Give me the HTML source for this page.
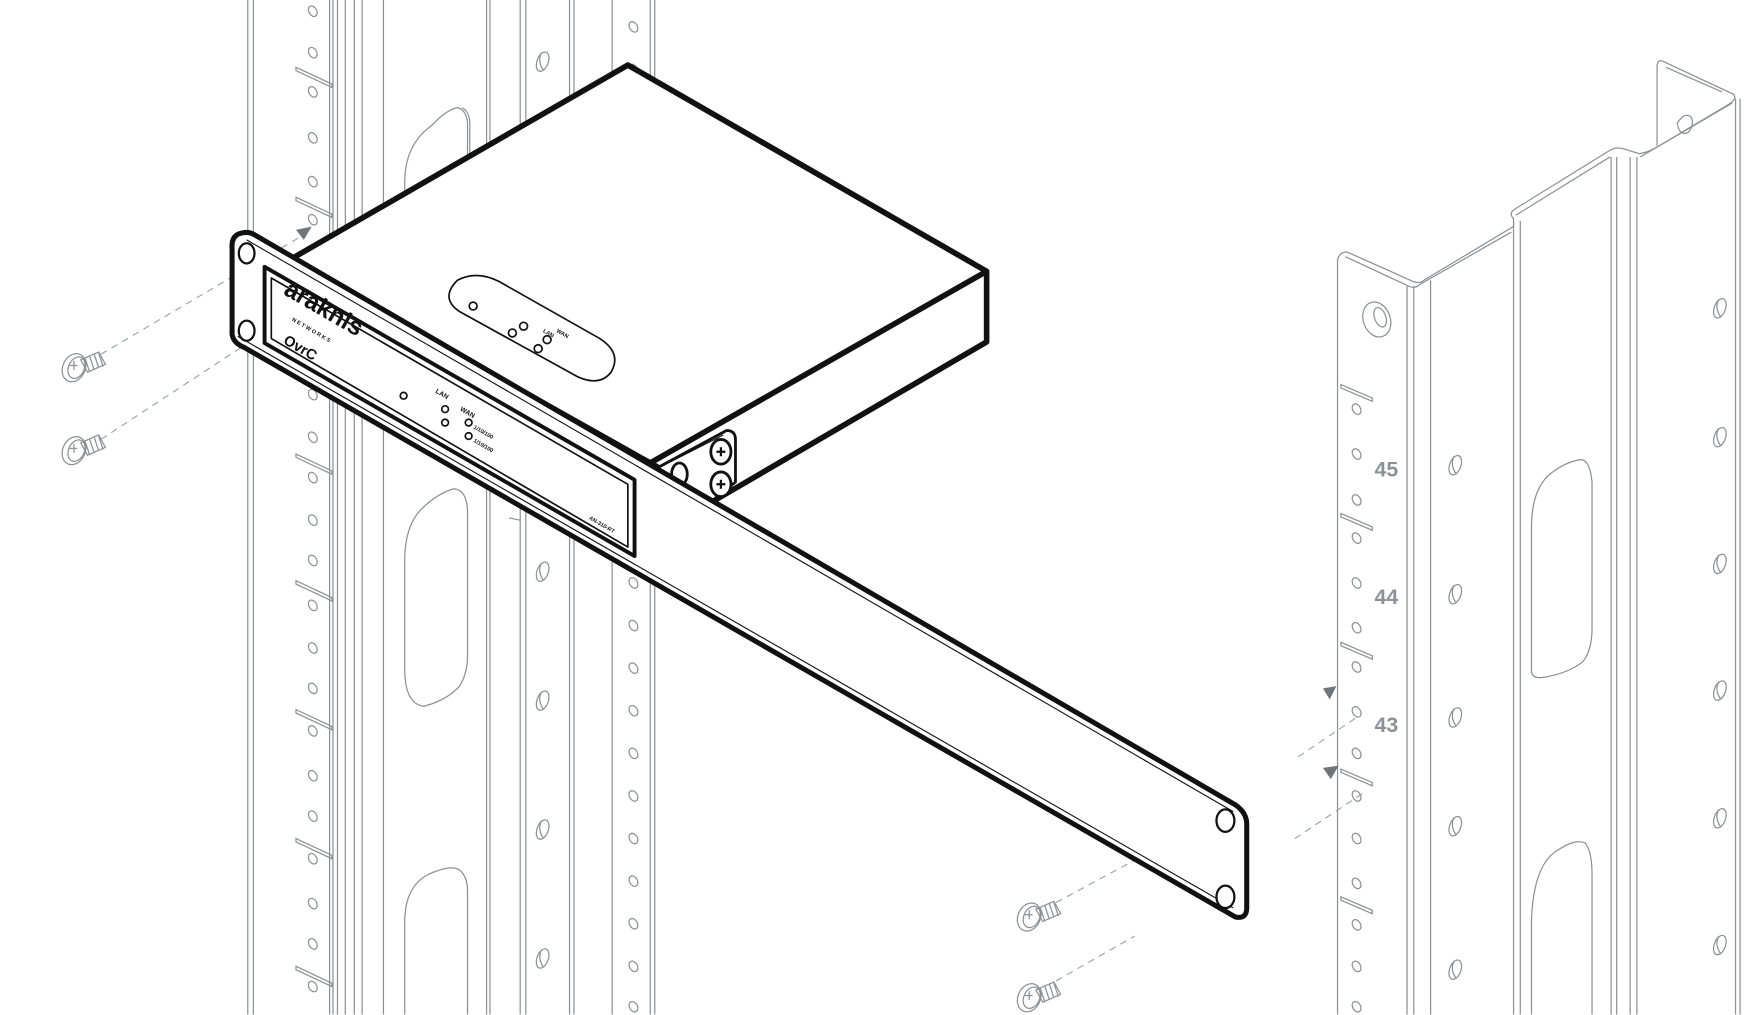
<!DOCTYPE html>
<html><head><meta charset="utf-8"><style>
html,body{margin:0;padding:0;background:#fff;width:1749px;height:1015px;overflow:hidden}
svg{display:block}
.g{stroke:#8a9197;stroke-width:1.1;fill:none}
.k{stroke:#111;fill:#fff;stroke-linejoin:round}
.n{stroke:#111;fill:none}
</style></head><body>
<svg width="1749" height="1015" viewBox="0 0 1560 905.4" preserveAspectRatio="none" xmlns="http://www.w3.org/2000/svg">
<defs>
<g id="h"><ellipse cx="0" cy="0" rx="3.5" ry="5" transform="rotate(-30)" class="g"/></g>
<g id="H"><ellipse cx="0" cy="0" rx="5" ry="9" transform="rotate(20)" class="g"/><path d="M-1,-8 q-4,8 2,16" class="g"/></g>
<g id="scr">
<path d="M6,-7 L22,-14 L28,-3 L12,4 Z" class="g"/>
<path d="M10,-8 l4,12 M14,-10 l4,12 M18,-12 l4,12 M22,-13 l4,12" class="g"/>
<ellipse cx="0" cy="0" rx="10" ry="13" transform="rotate(25)" class="g"/>
<ellipse cx="2" cy="-1" rx="7" ry="10" transform="rotate(25)" class="g"/>
<path d="M-4,-2 h7 M0,-6 v8" class="g"/>
</g>
</defs>

<!-- LEFT RACK -->
<g class="g">
<line x1="221" y1="0" x2="221" y2="905"/><line x1="226" y1="0" x2="226" y2="905"/>
<line x1="294" y1="0" x2="294" y2="905"/><line x1="297" y1="0" x2="297" y2="905"/>
<line x1="301" y1="0" x2="301" y2="905"/><line x1="308" y1="0" x2="308" y2="905"/>
<line x1="316" y1="0" x2="316" y2="905"/><line x1="323" y1="0" x2="323" y2="905"/>
<line x1="342" y1="0" x2="342" y2="905"/>
<line x1="434" y1="0" x2="434" y2="905"/><line x1="437" y1="0" x2="437" y2="905"/>
<line x1="464" y1="0" x2="464" y2="905"/><line x1="469" y1="0" x2="469" y2="905"/>
<line x1="508" y1="0" x2="508" y2="905"/><line x1="512" y1="0" x2="512" y2="905"/>
<line x1="546" y1="0" x2="546" y2="905"/>
<line x1="580" y1="0" x2="580" y2="905"/><line x1="584" y1="0" x2="584" y2="905"/>
<path d="M361,290 L361,160 Q362,128 385,112 Q398,98 408,96 Q416,98 417,110 L417,290"/>
<path d="M412,96 Q420,100 419,115 L419,290"/>
<path d="M361,600 Q362,628 378,630 Q398,625 410,612 Q417,600 417,585 L417,455 Q416,437 405,436 Q390,440 375,455 Q361,470 361,500 Z"/>
<path d="M361,905 L361,820 Q362,790 382,780 Q400,772 408,775 Q417,780 417,795 L417,905"/>
<path d="M264,60 l32,15 v3 l-32,-15 z M264,176 l32,15 v3 l-32,-15 z M264,290 l32,15 v3 l-32,-15 z M264,405 l32,15 v3 l-32,-15 z M264,518 l32,15 v3 l-32,-15 z M264,633 l32,15 v3 l-32,-15 z M264,748 l32,15 v3 l-32,-15 z M264,862 l32,15 v3 l-32,-15 z"/>
<path d="M454,462 l10,2"/>
</g>
<g>
<use href="#h" x="279" y="10"/><use href="#h" x="279" y="47"/><use href="#h" x="279" y="82"/><use href="#h" x="279" y="123"/><use href="#h" x="279" y="162"/><use href="#h" x="279" y="196"/><use href="#h" x="279" y="238"/><use href="#h" x="279" y="276"/><use href="#h" x="279" y="312"/><use href="#h" x="279" y="352"/><use href="#h" x="279" y="390"/><use href="#h" x="279" y="426"/><use href="#h" x="279" y="464"/><use href="#h" x="279" y="500"/><use href="#h" x="279" y="540"/><use href="#h" x="279" y="578"/><use href="#h" x="279" y="614"/><use href="#h" x="279" y="652"/><use href="#h" x="279" y="692"/><use href="#h" x="279" y="728"/><use href="#h" x="279" y="766"/><use href="#h" x="279" y="806"/><use href="#h" x="279" y="842"/><use href="#h" x="279" y="880"/>
<use href="#h" x="565" y="24"/><use href="#h" x="565" y="62"/><use href="#h" x="565" y="100"/><use href="#h" x="565" y="138"/><use href="#h" x="565" y="176"/><use href="#h" x="565" y="482"/><use href="#h" x="565" y="520"/><use href="#h" x="565" y="558"/><use href="#h" x="565" y="596"/><use href="#h" x="565" y="634"/><use href="#h" x="565" y="672"/><use href="#h" x="565" y="710"/><use href="#h" x="565" y="748"/><use href="#h" x="565" y="786"/><use href="#h" x="565" y="824"/><use href="#h" x="565" y="862"/><use href="#h" x="565" y="898"/>
<use href="#H" x="484" y="55"/><use href="#H" x="484" y="510"/><use href="#H" x="484" y="625"/><use href="#H" x="484" y="740"/><use href="#H" x="484" y="855"/>
</g>

<!-- RIGHT RACK -->
<g class="g">
<path d="M1193,905 L1193,232 Q1195,224 1202,225 L1258,250 Q1266,254 1270,250 L1350,202 L1350,195 Q1345,190 1352,186 L1436,134 Q1442,130 1452,134 L1462,137 Q1470,136 1480,130 L1542,93 Q1550,88 1546,84 L1484,55 Q1478,52 1478,60 L1478,130"/>
<path d="M1200,229 L1256,255 Q1262,258 1266,254 L1348,207"/>
<path d="M1352,192 L1436,140 M1463,140 L1545,92"/>
<path d="M1486,60 L1536,82"/>
<line x1="1255" y1="255" x2="1255" y2="905"/><line x1="1261" y1="255" x2="1261" y2="905"/>
<line x1="1276" y1="250" x2="1276" y2="905"/>
<line x1="1350" y1="200" x2="1350" y2="905"/><line x1="1356" y1="197" x2="1356" y2="905"/>
<line x1="1437" y1="140" x2="1437" y2="905"/><line x1="1442" y1="140" x2="1442" y2="905"/>
<line x1="1454" y1="140" x2="1454" y2="905"/><line x1="1460" y1="140" x2="1460" y2="905"/>
<line x1="1548" y1="88" x2="1548" y2="905"/><line x1="1552" y1="88" x2="1552" y2="905"/>
<path d="M1366,905 L1366,820 Q1368,770 1390,758 Q1405,748 1414,752 Q1420,760 1420,780 L1420,905"/>
<path d="M1366,600 Q1368,606 1378,604 Q1400,600 1412,590 Q1420,580 1420,560 L1420,430 Q1418,410 1410,410 Q1395,412 1380,425 Q1366,440 1366,470 Z"/>
<ellipse cx="1228" cy="285" rx="12" ry="16" transform="rotate(-20 1228 285)"/>
<ellipse cx="1231" cy="283" rx="5" ry="9" transform="rotate(-20 1231 283)"/>
<path d="M1496,110 q6,-10 12,-6 q4,6 -2,14 q-8,4 -10,-8z"/>
<path d="M1196,343 l28,12 v3 l-28,-12z M1196,458 l28,12 v3 l-28,-12z M1196,573 l28,12 v3 l-28,-12z M1196,686 l28,12 v3 l-28,-12z M1196,800 l28,12 v3 l-28,-12z"/>
</g>
<g>
<use href="#h" x="1210" y="365"/><use href="#h" x="1210" y="405"/><use href="#h" x="1210" y="446"/><use href="#h" x="1210" y="480"/><use href="#h" x="1210" y="520"/><use href="#h" x="1210" y="560"/><use href="#h" x="1210" y="595"/><use href="#h" x="1210" y="635"/><use href="#h" x="1210" y="672"/><use href="#h" x="1210" y="710"/><use href="#h" x="1210" y="748"/><use href="#h" x="1210" y="788"/><use href="#h" x="1210" y="825"/><use href="#h" x="1210" y="862"/><use href="#h" x="1210" y="898"/>
<use href="#H" x="1298" y="415"/><use href="#H" x="1298" y="530"/><use href="#H" x="1298" y="640"/><use href="#H" x="1298" y="737"/><use href="#H" x="1298" y="865"/>
<use href="#H" x="1534" y="275"/><use href="#H" x="1534" y="390"/><use href="#H" x="1534" y="503"/><use href="#H" x="1534" y="616"/><use href="#H" x="1534" y="730"/><use href="#H" x="1534" y="843"/>
</g>
<g font-family="Liberation Sans, sans-serif" font-weight="bold" font-size="19" fill="#8a9197">
<text x="1226" y="425">45</text><text x="1226" y="539">44</text><text x="1226" y="653">43</text>
</g>

<g stroke="#9aa0a5" stroke-width="1" stroke-dasharray="6,5" fill="none">
<line x1="90" y1="316" x2="270" y2="210"/>
<line x1="90" y1="392" x2="215" y2="310"/>
<line x1="942" y1="805" x2="1100" y2="720"/>
<line x1="942" y1="875" x2="1012" y2="835"/>
<line x1="1158" y1="675" x2="1210" y2="640"/>
<line x1="1155" y1="748" x2="1215" y2="708"/>
</g>
<path d="M264,205 L278,202 L271,214 Z M1180,614 L1192,612 L1186,624 Z M1180,685 L1194,683 L1187,695 Z" fill="#6e767c"/>

<use href="#scr" x="66" y="328"/><use href="#scr" x="66" y="402"/>
<use href="#scr" x="918" y="818"/><use href="#scr" x="918" y="890"/>

<!-- DEVICE -->
<path d="M258,232 L560,58 L880,242 L880,305 L638,446 L580,413 Z" class="k" stroke-width="5"/>
<path d="M580,413 L880,242" class="n" stroke-width="5"/>
<path d="M585,418 L648,384 Q656,384 656,392 L656,430 L636,446 Z" class="k" stroke-width="2.5"/>
<path d="M590,416 L645,388" class="n" stroke-width="1"/>
<ellipse cx="643" cy="403" rx="9" ry="11" class="k" stroke-width="2.5"/>
<ellipse cx="643" cy="432" rx="9" ry="11" class="k" stroke-width="2.5"/>
<ellipse cx="606" cy="423" rx="7" ry="10" class="k" stroke-width="2.5"/>
<path d="M639,403 h8 M643,399 v8 M639,432 h8 M643,428 v8" class="n" stroke-width="2"/>
<path d="M408,250 Q425,241 445,251 L535,302 Q555,315 545,332 Q535,345 515,336 L410,278 Q392,266 408,250 Z" class="k" stroke-width="1.5"/>
<circle cx="422" cy="273" r="3.5" class="k" stroke-width="1.5"/>
<circle cx="457" cy="297" r="3.5" class="k" stroke-width="1.5"/>
<circle cx="467" cy="291" r="3.5" class="k" stroke-width="1.5"/>
<circle cx="488" cy="303" r="3.5" class="k" stroke-width="1.5"/>
<circle cx="480" cy="311" r="3.5" class="k" stroke-width="1.5"/>
<!-- bracket -->
<path d="M215,208 Q206,210 207,222 L207,298 Q208,306 218,310 L1102,818 Q1112,820 1112,810 L1112,735 Q1112,725 1102,718 L228,210 Q222,206 215,208 Z" class="k" stroke-width="4.5"/>
<path d="M220,214 L1100,724 M212,300 L1100,810" class="n" stroke-width="1"/>
<path d="M236,238 L566,428 L566,496 L236,306 Z" class="k" stroke-width="3.5"/>
<path d="M242,248 L560,432 L560,488 L242,302 Z" class="k" stroke-width="1.5"/>
<ellipse cx="220" cy="226" rx="7" ry="9" class="k" stroke-width="2"/>
<ellipse cx="220" cy="295" rx="7" ry="9" class="k" stroke-width="2"/>
<ellipse cx="1093" cy="732" rx="8" ry="10" class="k" stroke-width="2"/>
<ellipse cx="1093" cy="800" rx="8" ry="10" class="k" stroke-width="2"/>
<circle cx="360" cy="353" r="3" class="k" stroke-width="1.5"/>
<circle cx="397" cy="365" r="3" class="k" stroke-width="1.5"/>
<circle cx="397" cy="377" r="3" class="k" stroke-width="1.5"/>
<circle cx="418" cy="377" r="3" class="k" stroke-width="1.5"/>
<circle cx="418" cy="389" r="3" class="k" stroke-width="1.5"/>
<g font-family="Liberation Sans, sans-serif" font-weight="bold" fill="#111">
<text x="252" y="262" font-size="22" transform="rotate(30 252 262)">araknis</text>
<text x="260" y="286" font-size="5" transform="rotate(30 260 286)">N E T W O R K S</text>
<text x="252" y="306" font-size="13" transform="rotate(30 252 306)">OvrC</text>
<text x="388" y="350" font-size="6" transform="rotate(30 388 350)">LAN</text>
<text x="410" y="366" font-size="6" transform="rotate(30 410 366)">WAN</text>
<text x="422" y="382" font-size="5" transform="rotate(30 422 382)">1/10/100</text>
<text x="422" y="394" font-size="5" transform="rotate(30 422 394)">1/10/100</text>
<text x="484" y="296" font-size="5" transform="rotate(30 484 296)">LAN</text>
<text x="496" y="296" font-size="5" transform="rotate(30 496 296)">WAN</text>
<text x="525" y="463" font-size="5" transform="rotate(30 525 463)">AN-310-RT</text>
</g>
</svg>
</body></html>
